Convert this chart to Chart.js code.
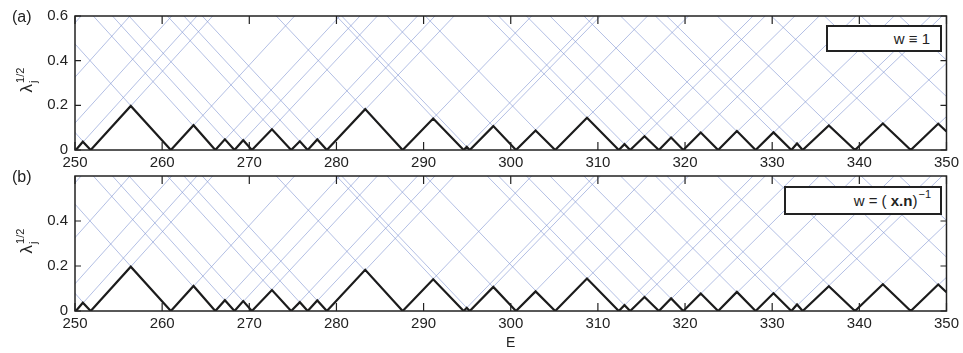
<!DOCTYPE html>
<html><head><meta charset="utf-8">
<script src="https://cdn.jsdelivr.net/npm/chart.js@4.4.1/dist/chart.umd.min.js"></script>
<style>
html,body{margin:0;padding:0;background:#fff;}
body{width:963px;height:353px;position:relative;overflow:hidden;font-family:"Liberation Sans",Arial,Helvetica,sans-serif;color:#222;}
canvas{position:absolute;left:0;}
#ca{top:0;}
#cb{top:160px;}
.plab{position:absolute;font-size:16px;line-height:16px;}
.ytitle{position:absolute;font-size:17px;line-height:1;white-space:nowrap;transform:translate(-50%,-50%) rotate(-90deg);transform-origin:center center;}
.ytitle .ss{display:inline-block;vertical-align:-5px;font-size:11px;line-height:13px;margin-left:1px;text-align:left;}
.ytitle .ss span{display:block;}
.legend{position:absolute;background:#fff;border:2px solid #222;box-sizing:border-box;font-size:15px;display:flex;align-items:center;justify-content:flex-end;padding-right:10px;white-space:nowrap;}
.legend sup{font-size:11px;position:relative;top:-7px;vertical-align:baseline;line-height:0;margin-left:1px;}
</style></head>
<body>
<canvas id="ca" width="963" height="176"></canvas>
<canvas id="cb" width="963" height="193"></canvas>
<div class="plab" style="left:12px;top:9px">(a)</div>
<div class="plab" style="left:12px;top:169px">(b)</div>
<div class="ytitle" style="left:27px;top:80px"><span>λ</span><span class="ss"><span>1/2</span><span>j</span></span></div>
<div class="ytitle" style="left:27px;top:241px"><span>λ</span><span class="ss"><span>1/2</span><span>j</span></span></div>
<div class="legend" style="left:826px;top:25px;width:116px;height:27px;">w ≡ 1</div>
<div class="legend" style="left:784px;top:186px;width:158px;height:29px;padding-right:9px;">w = (&nbsp;<b>x.n</b>)<sup>−1</sup></div>
<script>
// ---- data ----
const xTicks = [250, 260, 270, 280, 290, 300, 310, 320, 330, 340, 350];
const yTicksA = [0, 0.2, 0.4, 0.6];
const yTicksB = [0, 0.2, 0.4];

// lowest eigenvalue (thick black zig-zag): energies and values
const blackE = [250.0, 250.1, 250.9, 251.8, 256.4, 261.0, 263.6, 266.1, 267.2, 268.3, 269.3, 270.3, 272.6, 274.8, 275.8, 276.7, 277.8, 278.9, 283.3, 287.6, 291.1, 294.6, 294.95, 295.3, 298.0, 300.6, 302.85, 305.1, 308.75, 312.4, 313.05, 313.7, 315.35, 317.0, 318.4, 319.8, 321.8, 323.8, 325.95, 328.1, 330.15, 332.2, 332.85, 333.5, 336.5, 339.5, 342.7, 345.9, 349.05, 350.0];
const blackL = [0.004, 0, 0.037, 0, 0.197, 0, 0.111, 0, 0.048, 0, 0.044, 0, 0.093, 0, 0.039, 0, 0.047, 0, 0.183, 0, 0.141, 0, 0.014, 0, 0.107, 0, 0.087, 0, 0.144, 0, 0.026, 0, 0.062, 0, 0.056, 0, 0.078, 0, 0.085, 0, 0.079, 0, 0.029, 0, 0.11, 0, 0.119, 0, 0.118, 0.083];

// higher eigenvalues (thin blue V branches): zero of each branch and where its arms reach the top (0.6)
const vZero     = [237.0, 242.5, 247.2, 250.1, 251.8, 261.0, 266.1, 268.3, 270.3, 274.8, 276.7, 278.9, 287.6, 294.6, 295.3, 300.6, 305.1, 312.4, 313.7, 317.0, 319.8, 323.8, 328.1, 332.2, 333.5, 339.5, 345.9, 352.2, 356.5, 361.0];
const vLeftTop  = [223.6, 229.0, 233.6, 236.4, 238.1, 247.1, 252.1, 254.3, 256.2, 260.6, 262.5, 264.6, 273.1, 280.0, 280.6, 285.8, 290.2, 297.3, 298.6, 301.8, 304.5, 308.4, 312.6, 316.6, 317.9, 323.7, 329.9, 336.0, 340.2, 344.6];
const vRightTop = [250.7, 256.3, 261.1, 264.0, 265.8, 275.2, 280.4, 282.7, 284.7, 289.3, 291.3, 293.5, 302.4, 309.6, 310.3, 315.7, 320.4, 327.8, 329.2, 332.6, 335.4, 339.6, 344.0, 348.2, 349.5, 355.7, 362.3, 368.6, 373.0, 377.6];
const vTop = 0.6;

const FONT = "'Liberation Sans', Arial, Helvetica, sans-serif";
const INK = '#222';

function buildDatasets() {
  const ds = [{
    data: blackE.map((e, i) => ({x: e, y: blackL[i]})),
    borderColor: '#1c1c1c', borderWidth: 2.2, pointRadius: 0, tension: 0, borderJoinStyle: 'miter'
  }];
  vZero.forEach((z, i) => {
    ds.push({
      data: [{x: vLeftTop[i], y: vTop}, {x: z, y: 0}, {x: vRightTop[i], y: vTop}],
      borderColor: 'rgba(128,148,210,0.8)', borderWidth: 0.75, pointRadius: 0, tension: 0
    });
  });
  return ds;
}

const frameTicks = {
  id: 'frameTicks',
  afterDatasetsDraw(chart) {
    const {ctx, chartArea: a, scales: {x, y}} = chart;
    ctx.save();
    ctx.strokeStyle = INK;
    ctx.lineWidth = 1.2;
    ctx.beginPath();
    x.ticks.forEach(t => {
      const px = x.getPixelForValue(t.value);
      ctx.moveTo(px, a.bottom); ctx.lineTo(px, a.bottom - 8);
      ctx.moveTo(px, a.top); ctx.lineTo(px, a.top + 8);
    });
    y.ticks.forEach(t => {
      const py = y.getPixelForValue(t.value);
      ctx.moveTo(a.left, py); ctx.lineTo(a.left + 6, py);
      ctx.moveTo(a.right, py); ctx.lineTo(a.right - 6, py);
    });
    ctx.stroke();
    ctx.lineWidth = 1.5;
    ctx.strokeRect(a.left, a.top, a.right - a.left, a.bottom - a.top);
    ctx.restore();
  }
};

function makeChart(id, yTicks, padTop, xAxisH, showTitle) {
  return new Chart(document.getElementById(id), {
    type: 'line',
    data: {datasets: buildDatasets()},
    options: {
      responsive: false, animation: false, devicePixelRatio: 1,
      layout: {padding: {left: 0, right: 12, top: padTop, bottom: 0}},
      plugins: {legend: {display: false}, tooltip: {enabled: false}},
      scales: {
        x: {
          type: 'linear', min: 250, max: 350,
          afterBuildTicks: s => { s.ticks = xTicks.map(v => ({value: v})); },
          afterFit: s => { s.height = xAxisH; },
          grid: {display: false, drawTicks: false}, border: {display: false},
          ticks: {autoSkip: false, maxRotation: 0, padding: 4, color: INK, font: {family: FONT, size: 15}},
          title: {display: showTitle, text: 'E', color: INK, font: {family: FONT, size: 14}, padding: {top: 0, bottom: 1}}
        },
        y: {
          type: 'linear', min: 0, max: 0.6,
          afterBuildTicks: s => { s.ticks = yTicks.map(v => ({value: v})); },
          afterFit: s => { s.width = 75; },
          grid: {display: false, drawTicks: false}, border: {display: false},
          ticks: {padding: 7, color: INK, font: {family: FONT, size: 15}, callback: v => String(v)}
        }
      }
    },
    plugins: [frameTicks]
  });
}

makeChart('ca', yTicksA, 15, 26, false);
makeChart('cb', yTicksB, 16, 42, true);
</script>
</body></html>
